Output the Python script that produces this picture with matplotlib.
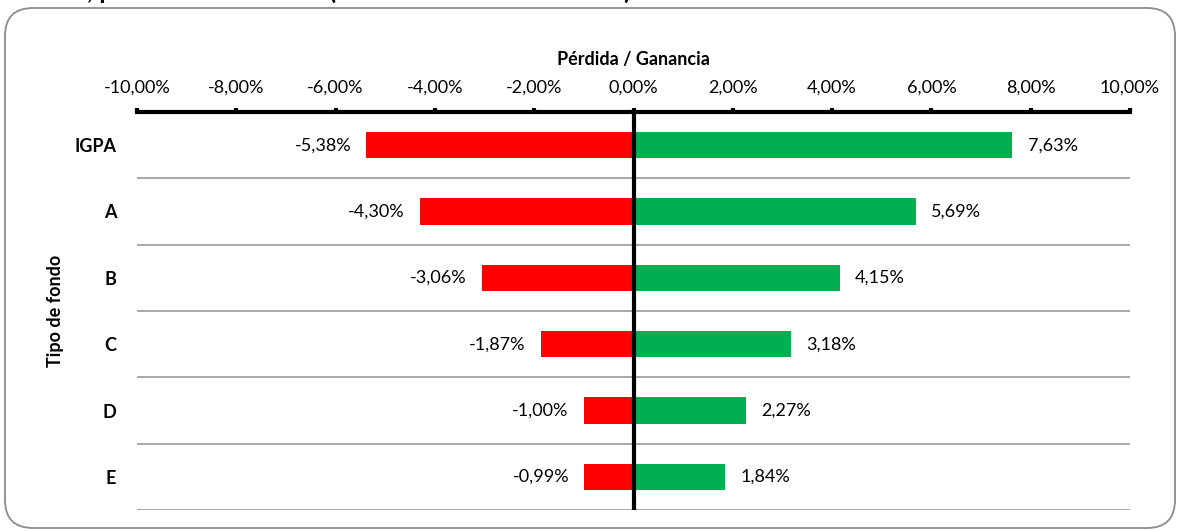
import numpy as np
import matplotlib.pyplot as plt
from matplotlib.patches import FancyBboxPatch
from matplotlib.ticker import FuncFormatter

plt.rcParams['font.family'] = ['Lato', 'DejaVu Sans']

categorias = ['IGPA', 'A', 'B', 'C', 'D', 'E']
perdida = [-5.38, -4.30, -3.06, -1.87, -1.00, -0.99]
ganancia = [7.63, 5.69, 4.15, 3.18, 2.27, 1.84]
ticks_x = np.arange(-10, 10.1, 2)

fig = plt.figure(figsize=(11.81, 5.31), dpi=100)

# marco redondeado del grafico (en pulgadas)
marco = FancyBboxPatch((0.05, 0.03), 11.70, 5.20,
                       boxstyle='round,pad=0,rounding_size=0.28',
                       transform=fig.dpi_scale_trans, fc='white', ec='#8c8c8c', lw=1.3,
                       zorder=-1)
fig.patches.append(marco)

# titulo cortado en la parte superior
fig.text(0.016, 1.019, 'fondo, período 2007-2018 (con base en datos diarios)',
         fontsize=18.5, fontweight='bold', ha='left', va='center')

ax = fig.add_axes([137 / 1181, 21 / 531, 993 / 1181, 398 / 531])
ax.set_facecolor('none')

y = np.arange(len(categorias))
ax.barh(y, perdida, height=0.4, color='#FF0000', zorder=2)
ax.barh(y, ganancia, height=0.4, color='#00B050', zorder=2)

for yi, v in zip(y, perdida):
    ax.annotate(f'{v:.2f}%'.replace('.', ','), (v, yi), xytext=(-11, 0),
                textcoords='offset points', ha='right', va='center', fontsize=13)
for yi, v in zip(y, ganancia):
    ax.annotate(f'{v:.2f}%'.replace('.', ','), (v, yi), xytext=(11, 0),
                textcoords='offset points', ha='left', va='center', fontsize=13)

# lineas separadoras entre categorias
for b in y + 0.5:
    ax.axhline(b, color='#999999', lw=1.2, zorder=1)
ax.axvline(0, color='black', lw=3, zorder=3)

ax.set_xlim(-10, 10)
ax.set_ylim(len(categorias) - 0.5, -0.5)
ax.set_xticks(ticks_x)
ax.xaxis.set_major_formatter(FuncFormatter(lambda v, p: f'{v:.2f}%'.replace('.', ',')))
ax.xaxis.tick_top()
ax.xaxis.set_label_position('top')
ax.tick_params(axis='x', direction='out', length=3, width=3, labelsize=13, pad=9)
ax.set_yticks(y)
ax.set_yticklabels(categorias, fontweight='bold', fontsize=13)
ax.tick_params(axis='y', length=0, pad=15)

for s in ['bottom', 'left', 'right']:
    ax.spines[s].set_visible(False)
ax.spines['top'].set_linewidth(3)

ax.set_xlabel('Pérdida / Ganancia', fontweight='bold', fontsize=13, labelpad=10)
ax.set_ylabel('Tipo de fondo', fontweight='bold', fontsize=13, labelpad=7)

fig.savefig('out.png', dpi=100)
